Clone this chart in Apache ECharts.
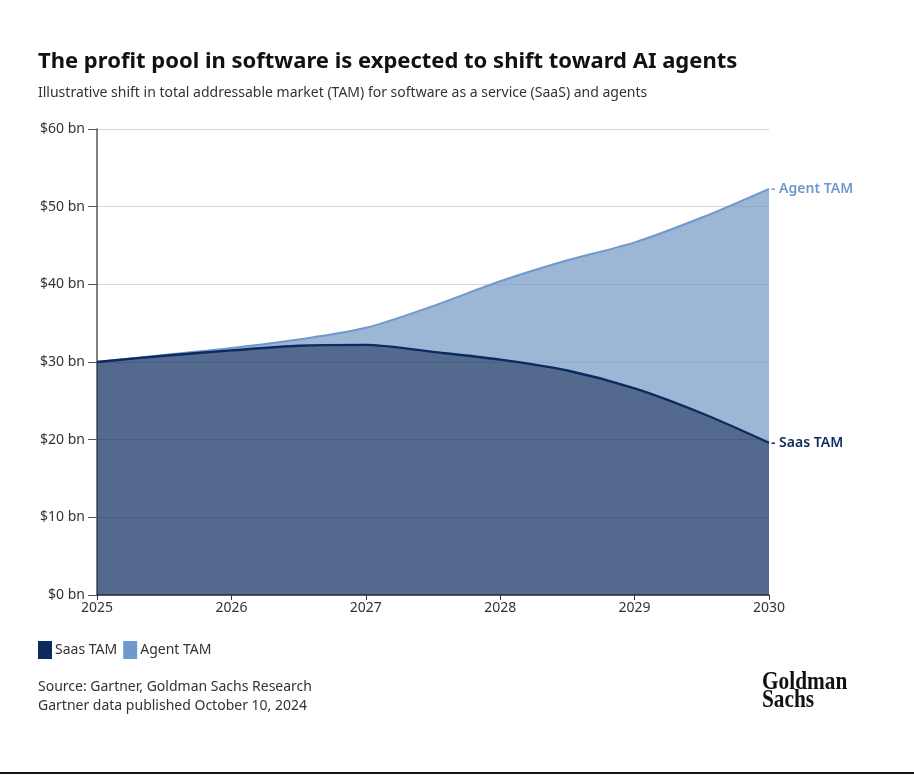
<!DOCTYPE html>
<html>
<head>
<meta charset="utf-8">
<title>The profit pool in software</title>
<script src="https://cdn.jsdelivr.net/npm/echarts@6/dist/echarts.min.js"></script>
<style>
  html, body { margin: 0; padding: 0; background: #fff; }
  #main { width: 914px; height: 776px; }
</style>
</head>
<body>
<div id="main"></div>
<script type="text/javascript">
    // values, half-year steps
    var years = ['2025', '2025.5', '2026', '2026.5', '2027', '2027.5', '2028', '2028.5', '2029', '2029.5', '2030'];
    var saasTam = [30, 30.8, 31.5, 32.1, 32.2, 31.3, 30.3, 28.9, 26.6, 23.4, 19.6];
    // agent part stacked on top of saas (top line minus saas line)
    var agentTam = [0, 0.1, 0.3, 0.8, 2.2, 5.9, 10.1, 14.2, 18.8, 25.2, 32.7];
    var yTicks = [0, 10, 20, 30, 40, 50, 60];

    var FONT = '"Noto Sans", Lato, sans-serif';

    // only whole years get a tick and a label
    function wholeYear(index, value) {
        return String(value).indexOf('.') < 0;
    }

    var myChart = echarts.init(document.getElementById('main'));

    var option = {
        backgroundColor: '#fff',
        textStyle: { fontFamily: FONT },
        title: [
            {
                text: 'The profit pool in software is expected to shift toward AI agents',
                left: 38,
                top: 51,
                padding: 0,
                textStyle: { fontFamily: FONT, fontSize: 22, fontWeight: 'bold', color: '#111' }
            },
            {
                text: 'Illustrative shift in total addressable market (TAM) for software as a service (SaaS) and agents',
                left: 38,
                top: 86,
                padding: 0,
                textStyle: { fontFamily: FONT, fontSize: 14, fontWeight: 'normal', color: '#333' }
            }
        ],
        legend: {
            left: 38,
            top: 641,
            padding: 0,
            icon: 'rect',
            itemWidth: 14,
            itemHeight: 18,
            itemGap: 6,
            textStyle: { fontFamily: FONT, fontSize: 14, color: '#333', padding: [0, 0, 0, -2] },
            data: ['Saas TAM', 'Agent TAM']
        },
        grid: {
            left: 97,
            right: 145,
            top: 129,
            bottom: 181
        },
        xAxis: {
            type: 'category',
            data: years,
            boundaryGap: false,
            axisLine: { show: true, lineStyle: { color: '#333', width: 1.5 } },
            axisTick: { show: true, length: 5, interval: wholeYear, lineStyle: { color: '#333' } },
            axisLabel: {
                color: '#333',
                fontSize: 14,
                margin: 6,
                interval: wholeYear
            },
            splitLine: { show: false }
        },
        yAxis: {
            type: 'value',
            min: yTicks[0],
            max: yTicks[yTicks.length - 1],
            interval: 10,
            axisLine: { show: true, lineStyle: { color: '#555', width: 1.5 } },
            axisTick: { show: true, length: 9, lineStyle: { color: '#555' } },
            axisLabel: {
                color: '#333',
                fontSize: 14,
                margin: 12,
                formatter: function (v) { return '$' + v + ' bn'; }
            },
            splitLine: { show: true, lineStyle: { color: '#d8d8d8', width: 1 } }
        },
        series: [
            {
                name: 'Saas TAM',
                type: 'line',
                stack: 'tam',
                smooth: 0.3,
                showSymbol: false,
                data: saasTam,
                itemStyle: { color: '#0b2a5e' },
                lineStyle: { color: '#0b2a5e', width: 2.4 },
                areaStyle: { color: '#0b2a5e', opacity: 0.7 },
                endLabel: {
                    show: true,
                    formatter: '- Saas TAM',
                    color: '#0b2a5e',
                    fontSize: 14,
                    fontWeight: 600,
                    distance: 2
                },
                z: 3
            },
            {
                name: 'Agent TAM',
                type: 'line',
                stack: 'tam',
                smooth: 0.3,
                showSymbol: false,
                data: agentTam,
                itemStyle: { color: '#6f99cc' },
                lineStyle: { color: '#6f99cc', width: 2 },
                areaStyle: { color: '#7497c4', opacity: 0.7 },
                endLabel: {
                    show: true,
                    formatter: '- Agent TAM',
                    color: '#6f99cc',
                    fontSize: 14,
                    fontWeight: 600,
                    distance: 2
                },
                z: 2
            }
        ],
        graphic: [
            {
                type: 'text',
                left: 38,
                top: 678,
                style: {
                    text: 'Source: Gartner, Goldman Sachs Research\nGartner data published October 10, 2024',
                    font: '14px ' + FONT,
                    fill: '#333',
                    lineHeight: 19
                }
            },
            {
                type: 'text',
                x: 762,
                y: 673,
                scaleX: 0.82,
                style: {
                    text: 'Goldman\nSachs',
                    font: 'bold 26px "Liberation Serif", serif',
                    fill: '#111',
                    lineHeight: 18
                }
            },
            {
                type: 'rect',
                shape: { x: 0, y: 772, width: 914, height: 2 },
                style: { fill: '#111' }
            }
        ]
    };

    myChart.setOption(option);
</script>
</body>
</html>
